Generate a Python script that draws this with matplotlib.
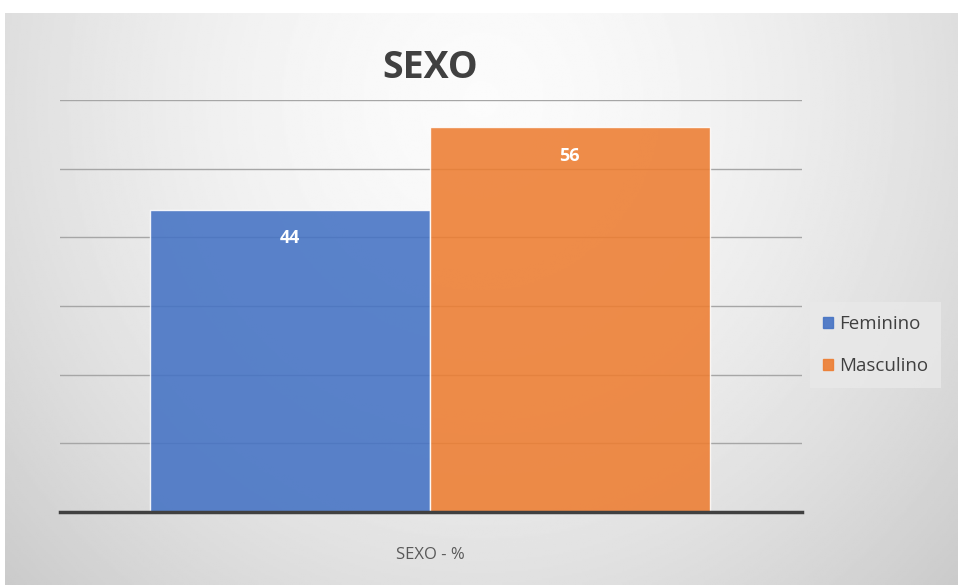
import numpy as np
import matplotlib.pyplot as plt

categories = ["Feminino", "Masculino"]
values = [44, 56]
colors = ["#4472C4", "#ED7D31"]
group_label = "SEXO - %"
title = "SEXO"

plt.rcParams['font.family'] = ['Open Sans', 'DejaVu Sans']

W, H = 958, 585
fig = plt.figure(figsize=(W / 100, H / 100), dpi=100)
fig.patch.set_facecolor("white")

# gradient background panel
bg = fig.add_axes([5 / W, 0, (W - 5) / W, (H - 13) / H])
yy, xx = np.mgrid[0:1:300j, 0:1:500j]
r = np.sqrt(((xx - 0.5) / 0.62) ** 2 + ((yy - 0.15) / 1.1) ** 2)
shade = np.clip(0.985 - 0.16 * r ** 1.6, 0.78, 1.0)
bg.imshow(shade, cmap="gray", vmin=0, vmax=1, aspect="auto",
          extent=[0, 1, 0, 1], origin="upper")
bg.axis("off")

ax = fig.add_axes([60 / W, 1 - 512 / H, (802 - 60) / W, (512 - 100) / H])
ax.patch.set_alpha(0)
ax.set_zorder(2)

x = np.arange(len(values)) - (len(values) - 1) / 2
bars = ax.bar(x, values, width=1.0, color=colors, alpha=0.88,
              edgecolor="white", linewidth=1, zorder=2)
for b, v in zip(bars, values):
    ax.text(b.get_x() + b.get_width() / 2, v - 4.1, f"{v}", ha="center",
            va="center", color="white", fontsize=13, fontweight="bold", zorder=3)

ax.set_xlim(-1.321, 1.329)
ax.set_ylim(0, 60)
ax.set_yticks(np.arange(0, 61, 10))
ax.yaxis.grid(True, color="#a6a6a6", linewidth=1)
ax.set_axisbelow(True)
ax.tick_params(left=False, bottom=False, labelleft=False)
ax.set_xticks([0])
ax.set_xticklabels([group_label], fontsize=12, color="#595959")
ax.tick_params(axis="x", pad=22)
for s in ["top", "right", "left"]:
    ax.spines[s].set_visible(False)
ax.spines["bottom"].set_color("#404040")
ax.spines["bottom"].set_linewidth(2.5)

fig.text(430 / W, 1 - 68 / H, title, ha="center", va="center",
         fontsize=27, fontweight="bold", color="#404040")

handles = [plt.Rectangle((0, 0), 1, 1, color=c, alpha=0.9) for c in colors]
leg = fig.legend(handles, categories, loc="center left",
                 bbox_to_anchor=(810 / W, 1 - 345 / H), fontsize=13.5,
                 frameon=True, handlelength=0.55, handleheight=0.55,
                 handletextpad=0.3, labelspacing=1.3, borderpad=0.7,
                 borderaxespad=0, labelcolor="#404040")
leg.get_frame().set_facecolor("#e9e9e9")
leg.get_frame().set_edgecolor("none")
leg.get_frame().set_alpha(0.8)
leg.get_frame().set_boxstyle("square", pad=0)

fig.savefig("out.png", dpi=100)
